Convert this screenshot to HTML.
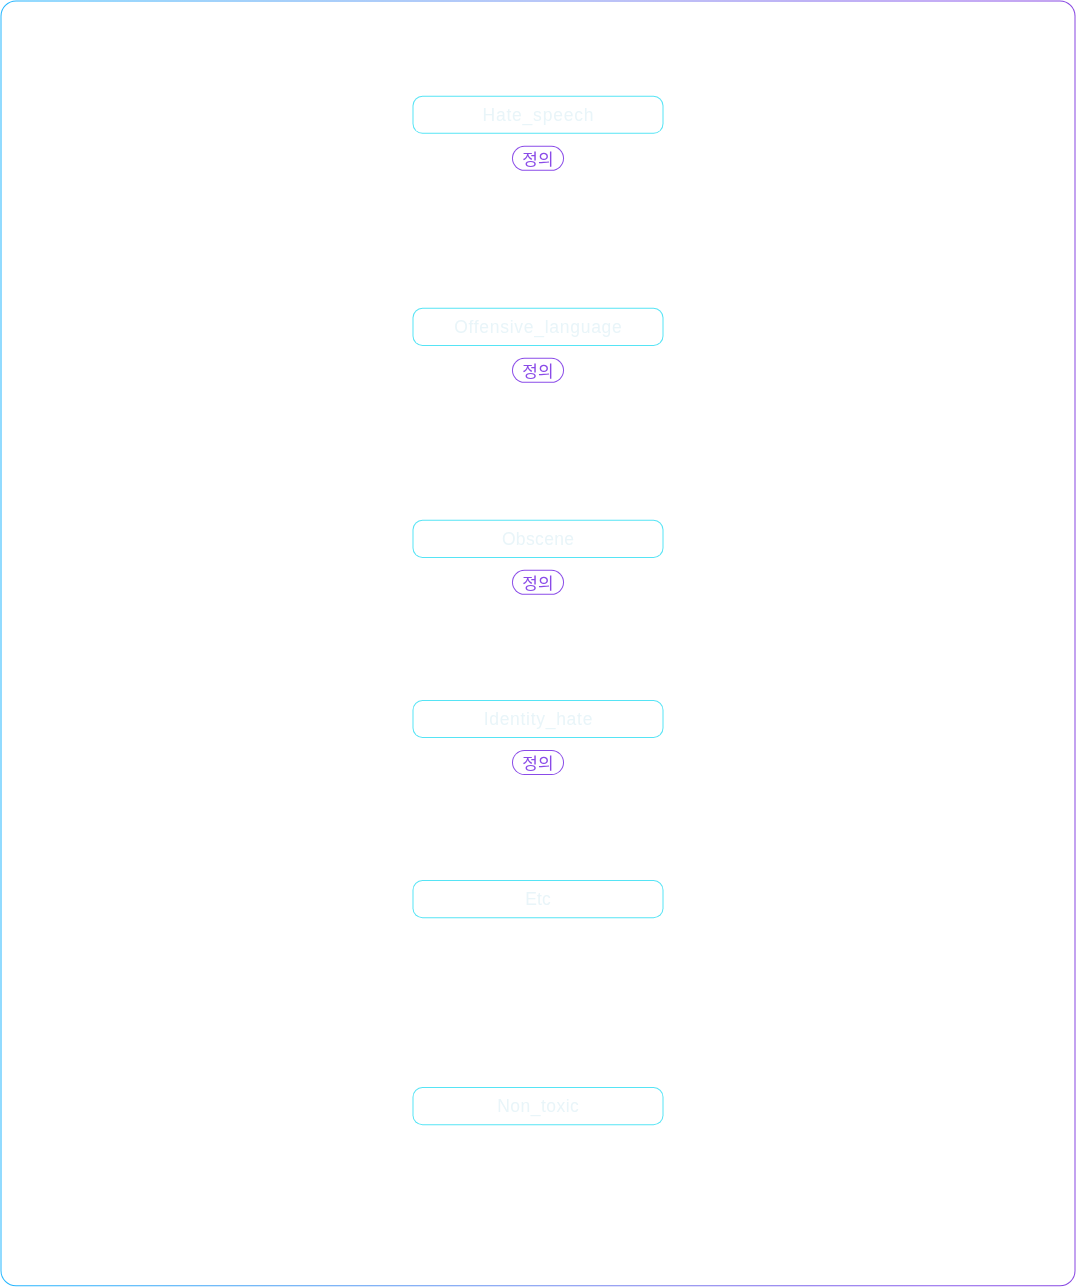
<!DOCTYPE html>
<html lang="ko">
<head>
<meta charset="utf-8">
<title>Labels</title>
<style>
html,body{margin:0;padding:0;background:#fff;}
body{width:1076px;height:1287px;overflow:hidden;position:relative;}
svg{position:absolute;left:0;top:0;display:block;will-change:transform;}
.lbl{font-family:"Liberation Sans",sans-serif;font-size:17.5px;fill:#e9f5f9;text-anchor:middle;}
.def{font-family:"Liberation Sans","Noto Sans CJK KR",sans-serif;font-weight:400;font-size:17px;fill:#8a4be8;text-anchor:middle;}
</style>
</head>
<body>
<svg width="1076" height="1287" viewBox="0 0 1076 1287">
<defs>
<linearGradient id="g" gradientUnits="userSpaceOnUse" x1="0" y1="0" x2="1076" y2="0">
<stop offset="0" stop-color="#25b7ff"/>
<stop offset="0.25" stop-color="#4ba1f5"/>
<stop offset="0.5" stop-color="#718ff1"/>
<stop offset="0.625" stop-color="#7d7ded"/>
<stop offset="0.75" stop-color="#7d65eb"/>
<stop offset="0.875" stop-color="#895beb"/>
<stop offset="1" stop-color="#8745e1"/>
</linearGradient>
</defs>
<rect x="0.5" y="0.5" width="1075" height="1285.75" rx="15.5" ry="15.5" fill="url(#g)"/>
<rect x="1.5" y="1.5" width="1073" height="1283.75" rx="14.5" ry="14.5" fill="#fff"/>
<rect fill="#56e4f5" x="412.5" y="95.80" width="251" height="38.00" rx="10" ry="10"/><rect fill="#fff" x="413.5" y="96.80" width="249" height="36.00" rx="9" ry="9"/>
<text class="lbl" x="538.38" y="120.9" letter-spacing="0.77">Hate_speech</text>
<rect fill="#8a4be8" x="512" y="145.80" width="52" height="25" rx="12.5" ry="12.5"/><rect fill="#fff" x="513" y="146.80" width="50" height="23" rx="11.5" ry="11.5"/>
<text class="def" x="538" y="165.0" transform="translate(0 158.65) scale(1 0.947) translate(0 -158.50)">정의</text>
<rect fill="#56e4f5" x="412.5" y="307.80" width="251" height="38.20" rx="10" ry="10"/><rect fill="#fff" x="413.5" y="308.80" width="249" height="36.20" rx="9" ry="9"/>
<text class="lbl" x="538.36" y="332.9" letter-spacing="0.72">Offensive_language</text>
<rect fill="#8a4be8" x="512" y="357.80" width="52" height="25" rx="12.5" ry="12.5"/><rect fill="#fff" x="513" y="358.80" width="50" height="23" rx="11.5" ry="11.5"/>
<text class="def" x="538" y="377.0" transform="translate(0 370.65) scale(1 0.947) translate(0 -370.50)">정의</text>
<rect fill="#56e4f5" x="412.5" y="519.80" width="251" height="38.20" rx="10" ry="10"/><rect fill="#fff" x="413.5" y="520.80" width="249" height="36.20" rx="9" ry="9"/>
<text class="lbl" x="538.17" y="544.9" letter-spacing="0.35">Obscene</text>
<rect fill="#8a4be8" x="512" y="569.80" width="52" height="25" rx="12.5" ry="12.5"/><rect fill="#fff" x="513" y="570.80" width="50" height="23" rx="11.5" ry="11.5"/>
<text class="def" x="538" y="589.0" transform="translate(0 582.65) scale(1 0.947) translate(0 -582.50)">정의</text>
<rect fill="#56e4f5" x="412.5" y="700.00" width="251" height="38.00" rx="10" ry="10"/><rect fill="#fff" x="413.5" y="701.00" width="249" height="36.00" rx="9" ry="9"/>
<text class="lbl" x="538.36" y="725.1" letter-spacing="0.71">Identity_hate</text>
<rect fill="#8a4be8" x="512" y="750.00" width="52" height="25" rx="12.5" ry="12.5"/><rect fill="#fff" x="513" y="751.00" width="50" height="23" rx="11.5" ry="11.5"/>
<text class="def" x="538" y="769.2" transform="translate(0 762.85) scale(1 0.947) translate(0 -762.70)">정의</text>
<rect fill="#56e4f5" x="412.5" y="880.00" width="251" height="38.20" rx="10" ry="10"/><rect fill="#fff" x="413.5" y="881.00" width="249" height="36.20" rx="9" ry="9"/>
<text class="lbl" x="538.00" y="905.1" letter-spacing="0">Etc</text>
<rect fill="#56e4f5" x="412.5" y="1087.00" width="251" height="38.20" rx="10" ry="10"/><rect fill="#fff" x="413.5" y="1088.00" width="249" height="36.20" rx="9" ry="9"/>
<text class="lbl" x="538.25" y="1112.1" letter-spacing="0.49">Non_toxic</text>
</svg>
</body>
</html>
